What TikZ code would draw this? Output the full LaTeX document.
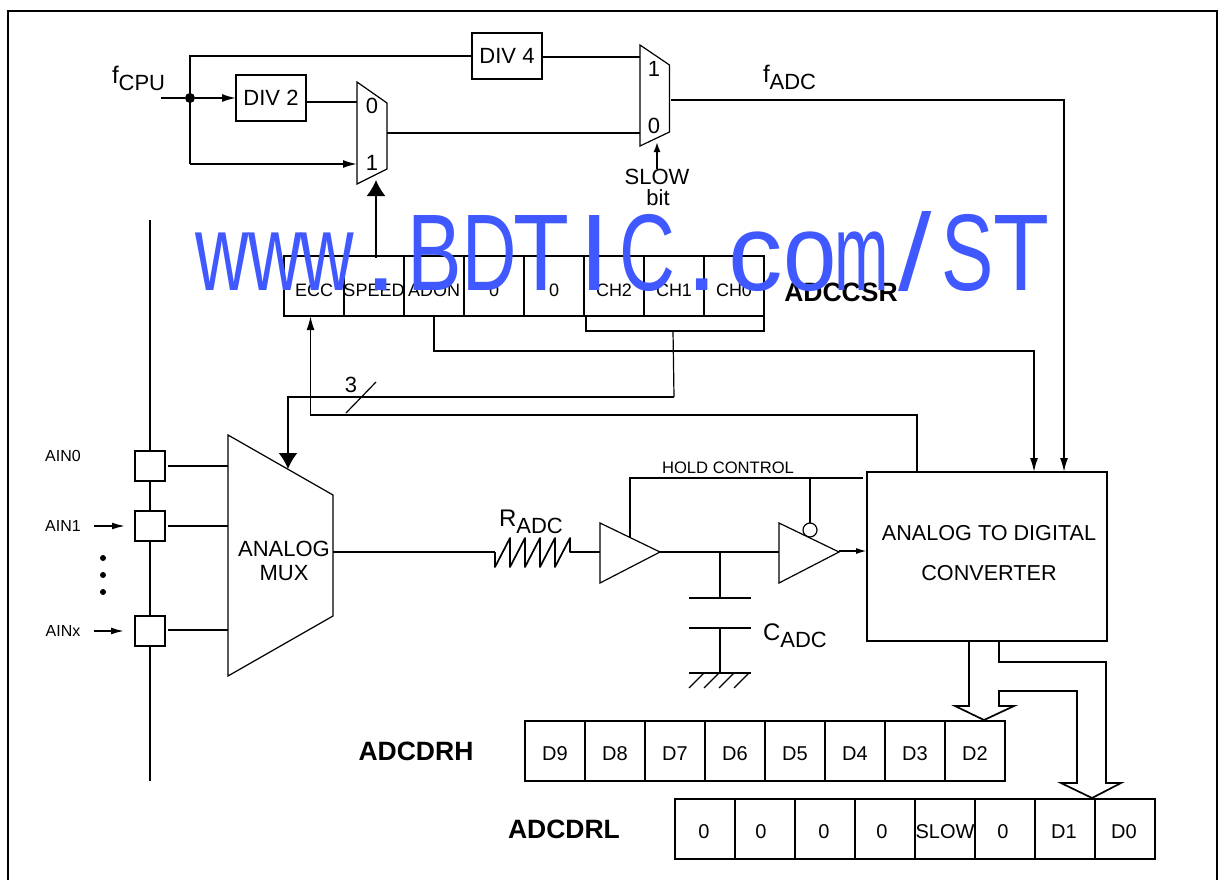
\documentclass[tikz,border=0pt]{standalone}
\usepackage{fontspec}
\setmainfont{Liberation Sans}
\usetikzlibrary{arrows.meta,calc}
\definecolor{wmblue}{HTML}{4058FF}
\newcommand{\fs}[1]{\fontsize{#1}{#1}\selectfont}
\newcommand{\subtxt}[2]{{\fs{24}#1}\raisebox{-7pt}{\fs{22}#2}}
\newcommand{\wmg}[3]{\rlap{\hspace*{#1pt}\scalebox{#2}[1]{#3}}}
\tikzset{
  wire/.style={line width=1.7pt},
  thin outline/.style={line width=1.2pt},
  sarrow/.style={wire,-{Latex[length=14pt,width=8pt]}},
  barrow/.style={wire,-{Latex[length=16pt,width=19pt]}},
  txt/.style={inner sep=0pt,outer sep=0pt,font=\fs{22}},
  celltxt/.style={inner sep=0pt,font=\fs{20},text height=14pt,text depth=0pt},
  cellbox/.style={draw,line width=1.7pt,minimum width=60pt,minimum height=60pt,inner sep=0pt,outer sep=0pt},
  divbox/.style={draw,line width=1.7pt,minimum width=70pt,minimum height=46pt,inner sep=0pt,outer sep=0pt,font=\fs{22}},
  pinbox/.style={draw,line width=1.7pt,minimum width=30pt,minimum height=30pt,inner sep=0pt,outer sep=0pt},
  boldtxt/.style={inner sep=0pt,font=\fs{26.5}\bfseries},
}
\begin{document}
\begin{tikzpicture}[x=1pt,y=-1pt]
\useasboundingbox (0,0) rectangle (1225,880);
% frame
\coordinate (frA) at (8,880); \coordinate (frB) at (8,11); \coordinate (frC) at (1217,11); \coordinate (frD) at (1217,880);
\draw[wire] (frA) -- (frB) -- (frC) -- (frD);

% clock section
\node[divbox] (div4) at (507,56) {DIV 4};
\node[divbox] (div2) at (271,98) {DIV 2};
\node[txt,anchor=base west] (fcpu) at (112,84) {\subtxt{f}{CPU}};
\node[txt,anchor=base west] (fadc) at (763,83) {\subtxt{f}{ADC}};
\coordinate (clkin) at (161,98);
\node[circle,fill=black,minimum size=10pt,inner sep=0pt] (jn) at (190,98) {};
\draw[sarrow] (clkin) -- (jn) -- (div2.west);
\coordinate (jnT) at (190,56); \coordinate (jnB) at (190,164);
\coordinate (m0in1) at (357,164);
\coordinate (m0in0) at (357,102);
\coordinate (m1in1) at (640,57);
\coordinate (m1in0) at (640,133);
\coordinate (m0out) at (387,133);
\coordinate (m1out) at (671,100);
\draw[wire] (div4.west |- jnT) -- (jnT) -- (jnB);
\draw[sarrow] (jnB) -- (m0in1);
\draw[wire] (div2.east |- m0in0) -- (m0in0);
\draw[wire] (div4.east |- m1in1) -- (m1in1);
\draw[wire] (m0out) -- (m1in0);
\draw[thin outline] (357,82) -- (387,103) -- (387,169) -- (357,184) -- cycle;
\draw[thin outline] (640,45) -- (669.5,65) -- (669.5,132) -- (640,146) -- cycle;
\node[txt] (m0l0) at (372,106) {0};
\node[txt] (m0l1) at (372,163) {1};
\node[txt] (m1l1) at (654,69) {1};
\node[txt] (m1l0) at (654,126) {0};
\node[txt] (slow) at (657,177) {SLOW};
\node[txt] (bit) at (658,198) {bit};
\coordinate (slowtip) at (657,142);
\draw[wire,-{Latex[length=10pt,width=7pt]}] (slow.north -| slowtip) -- (slowtip);
\coordinate (adcT) at (1064,100);

% register ADCCSR
\foreach \n/\x/\t in {r1/314/ECC,r2/374/SPEED,r3/434/ADON,r4/494/0,r5/554/0,r6/614/CH2,r7/674/CH1,r8/734/CH0}{
  \node[cellbox] (\n) at (\x,286) {};
  \node[celltxt,font=\fs{18}] (\n t) at (\x,289) {\t};
}
\node[boldtxt] (csr) at (841,292) {ADCCSR};
\coordinate (spdT) at (376,258); \coordinate (spdTip) at (376,180);
\draw[barrow] (spdT) -- (spdTip);

% ADC
\node[draw,line width=1.7pt,minimum width=240pt,minimum height=169pt,inner sep=0pt,outer sep=0pt] (adc) at (987,556.5) {};
\node[txt,font=\fs{21.6}] (adct1) at (989,533) {ANALOG TO DIGITAL};
\node[txt,font=\fs{21.6}] (adct2) at (989,573) {CONVERTER};
\draw[sarrow] (m1out) -- (adcT) -- (1064,472);

% bracket
\coordinate (brA) at (586,316); \coordinate (brB) at (586,331); \coordinate (brC) at (764,331); \coordinate (brD) at (764,316);
\draw[wire] (brA) -- (brB) -- (brC) -- (brD);
\coordinate (chsel) at (673,331); \coordinate (chselB) at (674,397); \coordinate (chselL) at (288,397); \coordinate (muxtop) at (288,469);
\draw[line width=1.2pt] (chsel) -- (chselB);
\draw[barrow] (chselB) -- (chselL) -- (muxtop);
% ADON
\coordinate (adonB) at (434,316); \coordinate (adonC) at (434,351); \coordinate (adonD) at (1034,351); \coordinate (adonE) at (1034,472);
\draw[sarrow] (adonB) -- (adonC) -- (adonD) -- (adonE);
% EOC
\coordinate (eocA) at (917,472); \coordinate (eocB) at (917,415); \coordinate (eocC) at (310.5,415); \coordinate (eocD) at (310.5,316);
\draw[sarrow] (eocA) -- (eocB) -- (eocC) -- (eocD);
% bus slash
\coordinate (slA) at (346,413); \coordinate (slB) at (376,382);
\draw[line width=1.2pt] (slA) -- (slB);
\node[txt] (three) at (351,385) {3};

% analog inputs
\coordinate (busT) at (150,220); \coordinate (busB) at (150,781);
\draw[wire] (busT) -- (busB);
\node[pinbox,fill=white] (p0) at (150,466) {};
\node[pinbox,fill=white] (p1) at (150,526) {};
\node[pinbox,fill=white] (px) at (150,631) {};
\coordinate (mi0) at (228,466); \coordinate (mi1) at (228,526); \coordinate (mix) at (228,630);
\coordinate (mo0) at (168,466); \coordinate (mo1) at (168,526); \coordinate (mox) at (168,630);
\draw[wire] (mo0) -- (mi0);
\draw[wire] (mo1) -- (mi1);
\draw[wire] (mox) -- (mix);
\node[txt,font=\fs{16}] (a0) at (63,456) {AIN0};
\node[txt,font=\fs{16}] (a1) at (63,526) {AIN1};
\node[txt,font=\fs{16}] (ax) at (63,631) {AINx};
\coordinate (a1s) at (94,526); \coordinate (a1e) at (125,526);
\coordinate (axs) at (94,631); \coordinate (axe) at (124,631);
\draw[wire,-{Latex[length=13pt,width=7pt]}] (a1s) -- (a1e);
\draw[wire,-{Latex[length=13pt,width=7pt]}] (axs) -- (axe);
\foreach \y/\n in {558/d1,575/d2,592/d3}{\node[circle,fill=black,minimum size=6pt,inner sep=0pt] (\n) at (103,\y) {};}

% analog mux
\draw[thin outline] (228,435) -- (333,495) -- (333,616) -- (228,676) -- cycle;
\node[txt] (muxa) at (284,549) {ANALOG};
\node[txt] (muxb) at (284,573) {MUX};

% sample chain
\coordinate (muxout) at (333,552); \coordinate (rL) at (495,552); \coordinate (rR) at (570,552); \coordinate (amp1in) at (600,552);
\draw[wire] (muxout) -- (rL);
\draw[wire,line join=round] (rL) -- (495,567) -- (510,538) -- (510,567) -- (525,538) -- (525,567) -- (540,538) -- (540,567) -- (555,538) -- (555,567) -- (570,538) -- (rR) -- (amp1in);
\node[txt,anchor=base west] (radc) at (499,526) {\subtxt{R}{ADC}};
\draw[thin outline] (600,523) -- (660,552) -- (600,583) -- cycle;
\coordinate (amp1out) at (660,552); \coordinate (amp2in) at (779,552);
\draw[wire] (amp1out) -- (amp2in);
\draw[thin outline] (779,523) -- (839,552) -- (779,583) -- cycle;
\coordinate (amp2out) at (839,551); \coordinate (adcin) at (867,551);
\draw[wire,-{Latex[length=11pt,width=6pt]}] (amp2out) -- (adcin);
% hold control
\coordinate (hA) at (630,538); \coordinate (hB) at (630,478); \coordinate (hC) at (863,478);
\draw[wire] (hA) -- (hB) -- (hC);
\node[circle,draw,line width=1.2pt,minimum size=14pt,inner sep=0pt,outer sep=0pt] (bub) at (810,530) {};
\coordinate (hD) at (810,478);
\draw[wire] (hD) -- (bub.north);
\node[txt,font=\fs{16.6}] (hold) at (728,468) {HOLD CONTROL};
% capacitor
\coordinate (capT) at (720,552); \coordinate (capA) at (720,598); \coordinate (capB) at (720,628); \coordinate (capG) at (720,673);
\draw[wire] (capT) -- (capA);
\draw[wire] (capB) -- (capG);
\coordinate (p1L) at (689,598); \coordinate (p1R) at (751,598);
\coordinate (p2L) at (689,628); \coordinate (p2R) at (751,628);
\coordinate (gL) at (689,673); \coordinate (gR) at (751,673);
\draw[wire] (p1L) -- (p1R);
\draw[wire] (p2L) -- (p2R);
\draw[wire] (gL) -- (gR);
\foreach \x in {704,719,734,749}{\draw[line width=1.2pt] (\x,673) -- (\x-15,688);}
\node[txt,anchor=base west] (cadc) at (763,640) {\subtxt{C}{ADC}};

% data registers
\foreach \n/\x/\t in {h9/555/D9,h8/615/D8,h7/675/D7,h6/735/D6,h5/795/D5,h4/855/D4,h3/915/D3,h2/975/D2}{
  \node[cellbox] (\n) at (\x,751) {};
  \node[celltxt] (\n t) at (\x,753) {\t};
}
\foreach \n/\x/\tx/\t in {l7/705/704/0,l6/765/761/0,l5/825/824/0,l4/885/882/0,l3/945/945/SLOW,l2/1005/1003/0,l1/1065/1064/D1,l0/1125/1124/D0}{
  \node[cellbox] (\n) at (\x,829) {};
  \node[celltxt] (\n t) at (\tx,831) {\t};
}
\node[boldtxt] (drh) at (416,751) {ADCDRH};
\node[boldtxt] (drl) at (564,829) {ADCDRL};
% hollow bus arrow
\draw[wire,line join=miter] (969,641) -- (969,706) -- (955,706) -- (984,720) -- (1014,706) -- (999,706) -- (999,691) -- (1077,691) -- (1077,783) -- (1061,783) -- (1092,798) -- (1121,783) -- (1106,783) -- (1106,662) -- (999,662) -- (999,641);

% watermark
\node[inner sep=0pt,text=wmblue,anchor=base west] (wm) at (195,290) {\makebox[853pt][l]{\fontsize{109}{109}\selectfont
\wmg{0}{.68}{w}\wmg{53}{.68}{w}\wmg{105}{.68}{w}\wmg{169}{1.1}{.}%
\wmg{212}{.75}{B}\wmg{267}{.69}{D}\wmg{318}{.84}{T}\wmg{384}{1}{I}\wmg{424}{.71}{C}\wmg{490}{1.1}{.}%
\wmg{533}{1}{c}\wmg{588}{.88}{o}\wmg{639}{.6}{m}\wmg{703}{1.1}{/}\wmg{746}{.72}{S}\wmg{798}{.84}{T}}};
\end{tikzpicture}
\end{document}
